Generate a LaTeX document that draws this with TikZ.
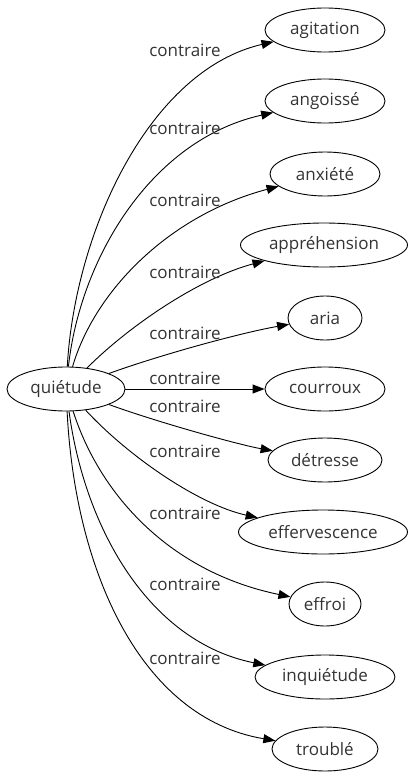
\documentclass[tikz,border=0pt]{standalone}
\usepackage{fontspec}
\setmainfont{Open Sans}
\usetikzlibrary{shapes.geometric,arrows.meta}
\begin{document}
\begin{tikzpicture}[x=1pt,y=-1pt,
  every node/.style={font=\fontsize{17}{20}\selectfont, text=black!80},
  nd/.style={draw, ellipse, line width=0.9pt, minimum height=44pt, inner sep=0pt},
  lbl/.style={font=\fontsize{17}{20}\selectfont, text=black!80},
  edge/.style={line width=0.9pt, -{Triangle[length=12pt,width=9pt]}}]
\useasboundingbox (0,0) rectangle (416,779);
\node[nd, minimum width=118pt] (q) at (66,389) {quiétude};
\node[nd, minimum width=120pt] (n1) at (325,30) {agitation};
\node[nd, minimum width=120pt] (n2) at (325,101) {angoissé};
\node[nd, minimum width=110pt] (n3) at (325,174) {anxiété};
\node[nd, minimum width=167pt] (n4) at (324,245) {appréhension};
\node[nd, minimum width=74pt] (n5) at (325,318) {aria};
\node[nd, minimum width=120pt] (n6) at (325,389) {courroux};
\node[nd, minimum width=114pt] (n7) at (325,460) {détresse};
\node[nd, minimum width=169pt] (n8) at (323,532) {effervescence};
\node[nd, minimum width=72pt] (n9) at (325,604) {effroi};
\node[nd, minimum width=140pt] (n10) at (325,677) {inquiétude};
\node[nd, minimum width=106pt] (n11) at (325,749) {troublé};

\draw[edge] (q) .. controls (75,230) and (150,70) .. (n1);
\draw[edge] (q) .. controls (80,260) and (150,140) .. (n2);
\draw[edge] (q) .. controls (95,290) and (170,215) .. (n3);
\draw[edge] (q) .. controls (130,325) and (200,278) .. (n4);
\draw[edge] (q) .. controls (160,355) and (240,333) .. (n5);
\draw[edge] (q) -- (n6);
\draw[edge] (q) .. controls (160,423) and (240,445) .. (n7);
\draw[edge] (q) .. controls (130,458) and (200,505) .. (n8);
\draw[edge] (q) .. controls (100,495) and (170,572) .. (n9);
\draw[edge] (q) .. controls (85,530) and (150,642) .. (n10);
\draw[edge] (q) .. controls (75,570) and (140,718) .. (n11);

\node[lbl] (l1) at (185,50) {contraire};
\node[lbl] (l2) at (185,128) {contraire};
\node[lbl] (l3) at (185,200) {contraire};
\node[lbl] (l4) at (185,272) {contraire};
\node[lbl] (l5) at (185,333) {contraire};
\node[lbl] (l6) at (185,378) {contraire};
\node[lbl] (l7) at (185,406) {contraire};
\node[lbl] (l8) at (185,451) {contraire};
\node[lbl] (l9) at (185,513) {contraire};
\node[lbl] (l10) at (185,584) {contraire};
\node[lbl] (l11) at (185,658) {contraire};
\end{tikzpicture}
\end{document}
